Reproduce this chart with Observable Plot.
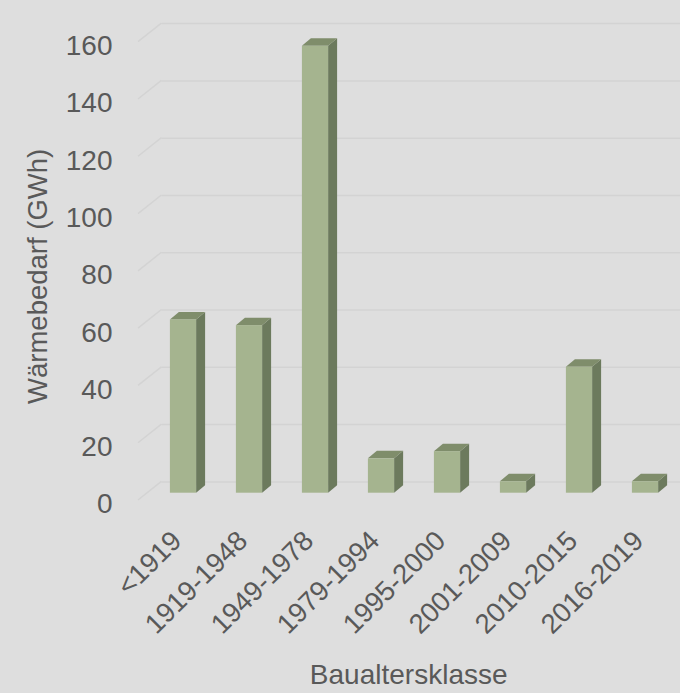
<!DOCTYPE html>
<html>
<head>
<meta charset="utf-8">
<script src="https://cdn.jsdelivr.net/npm/d3@7"></script>
<script src="https://cdn.jsdelivr.net/npm/@observablehq/plot@0.6"></script>
<style>
  html, body { margin: 0; padding: 0; background: #dedede; }
  #chart svg { display: block; }
</style>
</head>
<body>
<div id="chart"></div>
<script>
// Heat demand by building age class
const categories = ["<1919", "1919-1948", "1949-1978", "1979-1994", "1995-2000", "2001-2009", "2010-2015", "2016-2019"];
const waermebedarf = [60.5, 58.5, 156, 12, 14.5, 4, 44, 4];
const yTicks = [0, 20, 40, 60, 80, 100, 120, 140, 160];

const data = categories.map((c, i) => ({klasse: c, wert: waermebedarf[i]}));

// oblique projection of the 3D box: back wall offset and bar position/depth
const wall = {dx: 23.4, dy: -18.6};
const barOff = {dx: 9, dy: -7.3};
const barDepth = {dx: 9, dy: -7.5};
const inset = 19.9;

const colors = {front: "#a5b48f", side: "#6c7a5d", top: "#7f8d6b", grid: "#d3d3d3", text: "#595959"};

// left edge diagonals joining the axis to the back-wall gridlines
function diagonals(index, scales, values, dims) {
  const g = d3.create("svg:g").attr("stroke", colors.grid).attr("stroke-width", 1.5);
  const x0 = dims.marginLeft;
  for (const t of yTicks) {
    const y = scales.y(t);
    g.append("line").attr("x1", x0).attr("y1", y).attr("x2", x0 + wall.dx).attr("y2", y + wall.dy);
  }
  return g.node();
}

// side and top faces of each column
function faces(index, scales, values, dims) {
  const g = d3.create("svg:g");
  const bw = scales.x.bandwidth();
  categories.forEach((c, i) => {
    const xa = scales.x(c) + inset + barOff.dx;
    const xb = scales.x(c) + bw - inset + barOff.dx;
    const yb = scales.y(0) + barOff.dy;
    const yt = scales.y(waermebedarf[i]) + barOff.dy;
    const {dx, dy} = barDepth;
    g.append("path")
      .attr("d", `M${xb},${yt}L${xb + dx},${yt + dy}L${xb + dx},${yb + dy}L${xb},${yb}Z`)
      .attr("fill", colors.side);
    g.append("path")
      .attr("d", `M${xa},${yt}L${xa + dx},${yt + dy}L${xb + dx},${yt + dy}L${xb},${yt}Z`)
      .attr("fill", colors.top);
  });
  return g.node();
}

const chart = Plot.plot({
  width: 680,
  height: 693,
  marginLeft: 138,
  marginRight: 7.6,
  marginTop: 41.7,
  marginBottom: 193,
  style: {background: "#dedede", color: colors.text, fontFamily: "'Liberation Sans', Arial, sans-serif"},
  x: {type: "band", domain: categories, padding: 0, axis: null},
  y: {domain: [0, 160], axis: null},
  marks: [
    Plot.ruleY(yTicks, {stroke: colors.grid, strokeWidth: 1.5, dx: wall.dx, dy: wall.dy}),
    diagonals,
    faces,
    Plot.barY(data, {x: "klasse", y: "wert", fill: colors.front, insetLeft: inset, insetRight: inset, dx: barOff.dx, dy: barOff.dy}),
    Plot.axisY(yTicks, {tickSize: 0, tickPadding: 26, fontSize: 28, dy: 4, fill: colors.text, label: null}),
    Plot.text(categories, {x: d => d, y: () => 0, rotate: -45, textAnchor: "end", lineAnchor: "middle", fontSize: 27.5, dx: 2.4, dy: 35.6, fill: colors.text}),
    Plot.text(["Baualtersklasse"], {frameAnchor: "bottom", lineAnchor: "middle", fontSize: 28, dx: 3, dy: 175, fill: colors.text}),
    Plot.text(["Wärmebedarf (GWh)"], {frameAnchor: "left", textAnchor: "middle", lineAnchor: "middle", rotate: -90, fontSize: 27.5, dx: -100.5, dy: 5, fill: colors.text})
  ]
});
document.getElementById("chart").append(chart);
</script>
</body>
</html>
